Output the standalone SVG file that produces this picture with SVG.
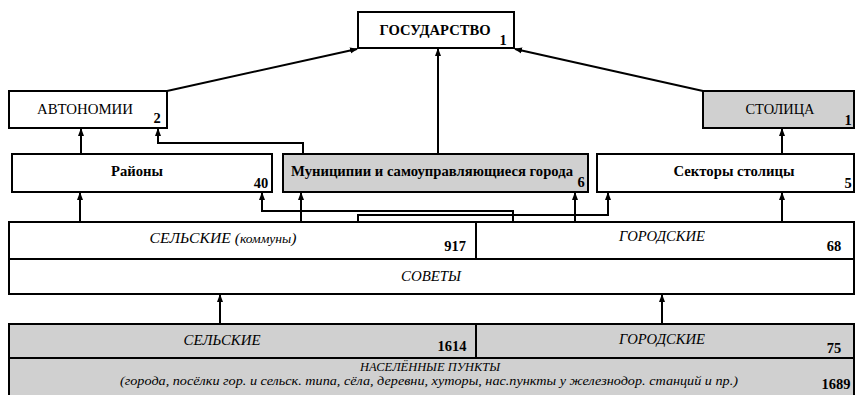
<svg xmlns="http://www.w3.org/2000/svg" width="856" height="395" viewBox="0 0 856 395">
<defs>
<marker id="ah" markerWidth="8" markerHeight="8" refX="7" refY="4" orient="auto" markerUnits="userSpaceOnUse">
<path d="M0,1 L8,4 L0,7 Z" fill="#000"/>
</marker>
</defs>
<rect width="856" height="395" fill="#fff"/>

<g id="connectors" fill="none" stroke="#000" stroke-width="2" marker-end="url(#ah)">
<path d="M167,91 L357,49"/>
<path d="M703,91 L515,49"/>
<path d="M438,154 L438,49"/>
<path d="M81,154 L81,129"/>
<path d="M303,154 L303,143 L158,143 L158,129"/>
<path d="M782,154 L782,129"/>
<path d="M80,222 L80,193"/>
<path d="M513,222 L513,211 L262,211 L262,193"/>
<path d="M301,222 L301,193"/>
<path d="M575,222 L575,193"/>
<path d="M358,222 L358,215 L608,215 L608,193"/>
<path d="M782,222 L782,193"/>
<path d="M220,323 L220,295"/>
<path d="M662,323 L662,295"/>
</g>

<g id="gosudarstvo">
<rect x="358" y="12" width="156" height="36" fill="#fff" stroke="#000" stroke-width="2"/>
<text x="435" y="35" font-size="15" font-family="Liberation Serif" font-weight="bold" text-anchor="middle" textLength="111" lengthAdjust="spacingAndGlyphs">ГОСУДАРСТВО</text>
<text x="503" y="45" font-size="14.5" font-family="Liberation Serif" font-weight="bold" text-anchor="middle">1</text>
</g>

<g id="avtonomii">
<rect x="9" y="91" width="158" height="37" fill="#fff" stroke="#000" stroke-width="2"/>
<text x="85" y="114" font-size="15" font-family="Liberation Serif" text-anchor="middle" textLength="96" lengthAdjust="spacingAndGlyphs">АВТОНОМИИ</text>
<text x="157" y="123" font-size="14.5" font-family="Liberation Serif" font-weight="bold" text-anchor="middle">2</text>
</g>

<g id="stolitsa">
<rect x="703" y="91" width="151" height="37" fill="#d0d0d0" stroke="#000" stroke-width="2"/>
<text x="780" y="114" font-size="15" font-family="Liberation Serif" text-anchor="middle" textLength="69" lengthAdjust="spacingAndGlyphs">СТОЛИЦА</text>
<text x="848" y="125" font-size="14.5" font-family="Liberation Serif" font-weight="bold" text-anchor="middle">1</text>
</g>

<g id="rayony">
<rect x="12" y="154" width="260" height="38" fill="#fff" stroke="#000" stroke-width="2"/>
<text x="137" y="176" font-size="15" font-family="Liberation Serif" font-weight="bold" text-anchor="middle" textLength="52" lengthAdjust="spacingAndGlyphs">Районы</text>
<text x="261" y="188" font-size="14.5" font-family="Liberation Serif" font-weight="bold" text-anchor="middle">40</text>
</g>

<g id="munitsipii">
<rect x="283" y="154" width="305" height="38" fill="#d0d0d0" stroke="#000" stroke-width="2"/>
<text x="432" y="176" font-size="15" font-family="Liberation Serif" font-weight="bold" text-anchor="middle" textLength="282" lengthAdjust="spacingAndGlyphs">Муниципии и самоуправляющиеся города</text>
<text x="581" y="187" font-size="14.5" font-family="Liberation Serif" font-weight="bold" text-anchor="middle">6</text>
</g>

<g id="sektory">
<rect x="597" y="154" width="257" height="38" fill="#fff" stroke="#000" stroke-width="2"/>
<text x="734" y="176" font-size="15" font-family="Liberation Serif" font-weight="bold" text-anchor="middle" textLength="121" lengthAdjust="spacingAndGlyphs">Секторы столицы</text>
<text x="848" y="188" font-size="14.5" font-family="Liberation Serif" font-weight="bold" text-anchor="middle">5</text>
</g>

<g id="sovety">
<rect x="9" y="222" width="845" height="37" fill="#fff" stroke="#000" stroke-width="2"/>
<line x1="476" y1="222" x2="476" y2="259" stroke="#000" stroke-width="2"/>
<text x="223" y="243" font-size="15" font-family="Liberation Serif" font-style="italic" text-anchor="middle" textLength="147" lengthAdjust="spacingAndGlyphs">СЕЛЬСКИЕ (<tspan font-size="13">коммуны</tspan>)</text>
<text x="455" y="251" font-size="14.5" font-family="Liberation Serif" font-weight="bold" text-anchor="middle">917</text>
<text x="662" y="241" font-size="15" font-family="Liberation Serif" font-style="italic" text-anchor="middle" textLength="86" lengthAdjust="spacingAndGlyphs">ГОРОДСКИЕ</text>
<text x="834" y="251" font-size="14.5" font-family="Liberation Serif" font-weight="bold" text-anchor="middle">68</text>
<rect x="9" y="259" width="845" height="35" fill="#fff" stroke="#000" stroke-width="2"/>
<text x="431" y="281" font-size="15" font-family="Liberation Serif" font-style="italic" text-anchor="middle" textLength="60" lengthAdjust="spacingAndGlyphs">СОВЕТЫ</text>
</g>

<g id="punkty">
<rect x="9" y="324" width="845" height="72" fill="#d0d0d0" stroke="#000" stroke-width="2"/>
<line x1="9" y1="358" x2="854" y2="358" stroke="#000" stroke-width="2"/>
<line x1="476" y1="324" x2="476" y2="358" stroke="#000" stroke-width="2"/>
<text x="222" y="345" font-size="15" font-family="Liberation Serif" font-style="italic" text-anchor="middle" textLength="77" lengthAdjust="spacingAndGlyphs">СЕЛЬСКИЕ</text>
<text x="452" y="351" font-size="14.5" font-family="Liberation Serif" font-weight="bold" text-anchor="middle">1614</text>
<text x="662" y="344" font-size="15" font-family="Liberation Serif" font-style="italic" text-anchor="middle" textLength="86" lengthAdjust="spacingAndGlyphs">ГОРОДСКИЕ</text>
<text x="834" y="353" font-size="14.5" font-family="Liberation Serif" font-weight="bold" text-anchor="middle">75</text>
<text x="430" y="371" font-size="13.5" font-family="Liberation Serif" font-style="italic" text-anchor="middle" textLength="140" lengthAdjust="spacingAndGlyphs">НАСЕЛЁННЫЕ ПУНКТЫ</text>
<text x="429" y="385" font-size="12.5" font-family="Liberation Serif" font-style="italic" text-anchor="middle" textLength="618" lengthAdjust="spacingAndGlyphs">(города, посёлки гор. и сельск. типа, сёла, деревни, хуторы, нас.пункты у железнодор. станций и пр.)</text>
<text x="836" y="389" font-size="14.5" font-family="Liberation Serif" font-weight="bold" text-anchor="middle">1689</text>
</g>
</svg>
